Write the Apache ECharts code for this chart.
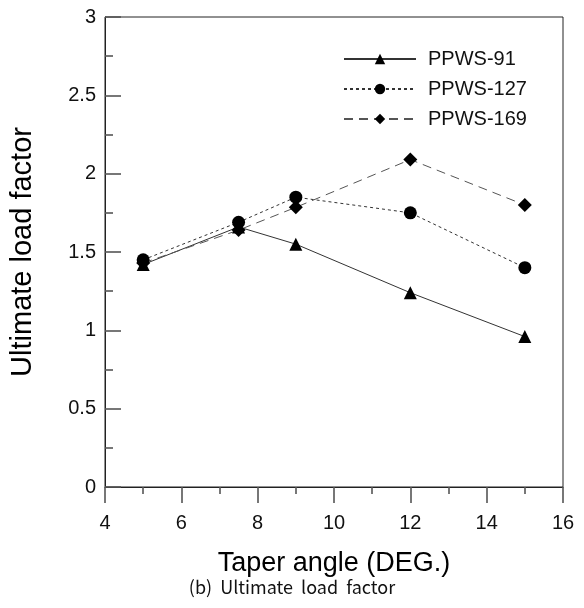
<!DOCTYPE html>
<html>
<head>
<meta charset="utf-8">
<script src="https://cdn.jsdelivr.net/npm/echarts@6/dist/echarts.min.js"></script>
<style>
html,body{margin:0;padding:0;background:#fff;}
#c{width:584px;height:608px;}
</style>
</head>
<body>
<div id="c"></div>
<script>
const taperAngles = [5, 7.5, 9, 12, 15];
const ppws91  = [1.42, 1.66, 1.55, 1.24, 0.96];
const ppws127 = [1.45, 1.69, 1.85, 1.75, 1.40];
const ppws169 = [1.43, 1.64, 1.785, 2.09, 1.80];
const seriesNames = ['PPWS-91', 'PPWS-127', 'PPWS-169'];
const xTitle = 'Taper angle (DEG.)';
const yTitle = 'Ultimate load factor';
const caption = '(b)  Ultimate  load  factor';

const pairs = arr => taperAngles.map((x, i) => [x, arr[i]]);
const font = 'Liberation Sans, Arial, sans-serif';

const chart = echarts.init(document.getElementById('c'), null, {renderer: 'canvas'});
chart.setOption({
  animation: false,
  backgroundColor: '#fff',
  grid: {left: 94, right: 21, top: 17, bottom: 121, show: true, borderColor: '#222', borderWidth: 1, backgroundColor: 'transparent'},
  legend: {
    orient: 'vertical', left: 338, top: 44, itemWidth: 72, itemHeight: 13, itemGap: 10,
    data: seriesNames,
    textStyle: {fontFamily: font, fontSize: 20, color: '#111', padding: [0, 0, 0, 7]}
  },
  xAxis: {
    type: 'value', min: 4, max: 16, interval: 2,
    axisLine: {show: true, lineStyle: {color: '#222', width: 1}},
    axisTick: {show: true, inside: false, length: 16, lineStyle: {color: '#555', width: 1.6}},
    minorTick: {show: true, splitNumber: 2, length: 7, lineStyle: {color: '#555', width: 1.6}},
    splitLine: {show: false},
    axisLabel: {fontFamily: font, fontSize: 20, color: '#111', margin: 26},
    name: xTitle, nameLocation: 'middle', nameGap: 63,
    nameTextStyle: {fontFamily: font, fontSize: 27, color: '#000'}
  },
  yAxis: {
    type: 'value', min: 0, max: 3, interval: 0.5,
    axisLine: {show: true, lineStyle: {color: '#222', width: 1}},
    axisTick: {show: true, inside: true, length: 16, lineStyle: {color: '#555', width: 1.6}},
    minorTick: {show: true, splitNumber: 2, length: 8, lineStyle: {color: '#555', width: 1.6}},
    splitLine: {show: false},
    axisLabel: {fontFamily: font, fontSize: 20, color: '#111', margin: 9},
    name: yTitle, nameLocation: 'middle', nameGap: 68, nameRotate: 90,
    nameTextStyle: {fontFamily: font, fontSize: 29, color: '#000'}
  },
  series: [
    {name: seriesNames[0], type: 'line', data: pairs(ppws91), symbol: 'triangle', symbolSize: 13,
     itemStyle: {color: '#000'}, lineStyle: {color: '#333', width: 1, type: 'solid'}},
    {name: seriesNames[1], type: 'line', data: pairs(ppws127), symbol: 'circle', symbolSize: 13,
     itemStyle: {color: '#000'}, lineStyle: {color: '#333', width: 1, type: [3, 3]}},
    {name: seriesNames[2], type: 'line', data: pairs(ppws169), symbol: 'diamond', symbolSize: 14,
     itemStyle: {color: '#000'}, lineStyle: {color: '#555', width: 1, type: [9, 6]}}
  ],
  graphic: [{
    type: 'text', left: 'center', top: 578,
    style: {text: caption, fontFamily: 'Noto Sans CJK KR, Noto Sans, sans-serif', fontSize: 18, fill: '#111'}
  }]
});
</script>
</body>
</html>
